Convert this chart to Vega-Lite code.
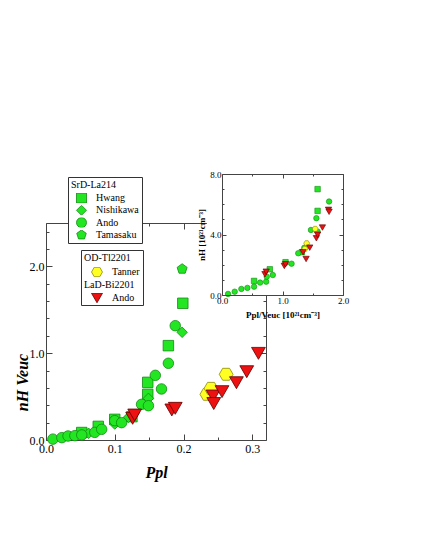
{
  "$schema": "https://vega.github.io/schema/vega-lite/v6.json",
  "autosize": {"type": "none"},
  "padding": {"left": 46, "top": 223, "right": 159, "bottom": 110},
  "width": 220,
  "height": 217,
  "background": "white",
  "config": {"view": {"stroke": null}, "font": "Liberation Serif"},
  "data": {"values": [
    {"p":"main","g":"SrD","a":"Hwang","x":0.052,"y":0.086},
    {"p":"main","g":"SrD","a":"Hwang","x":0.076,"y":0.157},
    {"p":"main","g":"SrD","a":"Hwang","x":0.100,"y":0.238},
    {"p":"main","g":"SrD","a":"Hwang","x":0.125,"y":0.269},
    {"p":"main","g":"SrD","a":"Hwang","x":0.148,"y":0.526},
    {"p":"main","g":"SrD","a":"Hwang","x":0.148,"y":0.664},
    {"p":"main","g":"SrD","a":"Hwang","x":0.178,"y":1.087},
    {"p":"main","g":"SrD","a":"Hwang","x":0.199,"y":1.575},
    {"p":"main","g":"SrD","a":"Nishikawa","x":0.062,"y":0.077},
    {"p":"main","g":"SrD","a":"Nishikawa","x":0.100,"y":0.184},
    {"p":"main","g":"SrD","a":"Nishikawa","x":0.120,"y":0.261},
    {"p":"main","g":"SrD","a":"Nishikawa","x":0.149,"y":0.480},
    {"p":"main","g":"SrD","a":"Nishikawa","x":0.198,"y":1.241},
    {"p":"main","g":"SrD","a":"Ando","x":0.010,"y":0.010},
    {"p":"main","g":"SrD","a":"Ando","x":0.023,"y":0.027},
    {"p":"main","g":"SrD","a":"Ando","x":0.032,"y":0.046},
    {"p":"main","g":"SrD","a":"Ando","x":0.042,"y":0.050},
    {"p":"main","g":"SrD","a":"Ando","x":0.052,"y":0.058},
    {"p":"main","g":"SrD","a":"Ando","x":0.071,"y":0.088},
    {"p":"main","g":"SrD","a":"Ando","x":0.081,"y":0.123},
    {"p":"main","g":"SrD","a":"Ando","x":0.100,"y":0.223},
    {"p":"main","g":"SrD","a":"Ando","x":0.110,"y":0.200},
    {"p":"main","g":"SrD","a":"Ando","x":0.139,"y":0.411},
    {"p":"main","g":"SrD","a":"Ando","x":0.149,"y":0.395},
    {"p":"main","g":"SrD","a":"Ando","x":0.159,"y":0.745},
    {"p":"main","g":"SrD","a":"Ando","x":0.168,"y":0.588},
    {"p":"main","g":"SrD","a":"Ando","x":0.178,"y":0.884},
    {"p":"main","g":"SrD","a":"Ando","x":0.188,"y":1.317},
    {"p":"main","g":"SrD","a":"Tamasaku","x":0.198,"y":1.970},
    {"p":"main","g":"Tl","a":"Tanner","x":0.234,"y":0.526},
    {"p":"main","g":"Tl","a":"Tanner","x":0.240,"y":0.595},
    {"p":"main","g":"Tl","a":"Tanner","x":0.262,"y":0.757},
    {"p":"main","g":"Bi","a":"Ando","x":0.126,"y":0.250},
    {"p":"main","g":"Bi","a":"Ando","x":0.129,"y":0.288},
    {"p":"main","g":"Bi","a":"Ando","x":0.183,"y":0.346},
    {"p":"main","g":"Bi","a":"Ando","x":0.188,"y":0.365},
    {"p":"main","g":"Bi","a":"Ando","x":0.243,"y":0.507},
    {"p":"main","g":"Bi","a":"Ando","x":0.244,"y":0.420},
    {"p":"main","g":"Bi","a":"Ando","x":0.256,"y":0.557},
    {"p":"main","g":"Bi","a":"Ando","x":0.277,"y":0.660},
    {"p":"main","g":"Bi","a":"Ando","x":0.292,"y":0.787},
    {"p":"main","g":"Bi","a":"Ando","x":0.309,"y":0.998},
    {"p":"inset","g":"SrD","a":"Hwang","x":0.53,"y":0.93},
    {"p":"inset","g":"SrD","a":"Hwang","x":0.79,"y":1.70},
    {"p":"inset","g":"SrD","a":"Hwang","x":1.05,"y":2.17},
    {"p":"inset","g":"SrD","a":"Hwang","x":1.32,"y":2.83},
    {"p":"inset","g":"SrD","a":"Hwang","x":1.58,"y":5.56},
    {"p":"inset","g":"SrD","a":"Hwang","x":1.58,"y":7.00},
    {"p":"inset","g":"SrD","a":"Ando","x":0.10,"y":0.07},
    {"p":"inset","g":"SrD","a":"Ando","x":0.21,"y":0.22},
    {"p":"inset","g":"SrD","a":"Ando","x":0.32,"y":0.40},
    {"p":"inset","g":"SrD","a":"Ando","x":0.42,"y":0.47},
    {"p":"inset","g":"SrD","a":"Ando","x":0.53,"y":0.55},
    {"p":"inset","g":"SrD","a":"Ando","x":0.63,"y":0.82},
    {"p":"inset","g":"SrD","a":"Ando","x":0.73,"y":0.88},
    {"p":"inset","g":"SrD","a":"Ando","x":0.74,"y":1.21},
    {"p":"inset","g":"SrD","a":"Ando","x":0.84,"y":1.32},
    {"p":"inset","g":"SrD","a":"Ando","x":1.15,"y":2.07},
    {"p":"inset","g":"SrD","a":"Ando","x":1.26,"y":2.76},
    {"p":"inset","g":"SrD","a":"Ando","x":1.36,"y":3.12},
    {"p":"inset","g":"SrD","a":"Ando","x":1.47,"y":4.30},
    {"p":"inset","g":"SrD","a":"Ando","x":1.58,"y":4.19},
    {"p":"inset","g":"SrD","a":"Ando","x":1.56,"y":5.08},
    {"p":"inset","g":"SrD","a":"Ando","x":1.77,"y":6.18},
    {"p":"inset","g":"Tl","a":"Tanner","x":1.37,"y":3.05},
    {"p":"inset","g":"Tl","a":"Tanner","x":1.40,"y":3.42},
    {"p":"inset","g":"Tl","a":"Tanner","x":1.54,"y":4.37},
    {"p":"inset","g":"Bi","a":"Ando","x":0.71,"y":1.37},
    {"p":"inset","g":"Bi","a":"Ando","x":0.73,"y":1.54},
    {"p":"inset","g":"Bi","a":"Ando","x":1.03,"y":1.92},
    {"p":"inset","g":"Bi","a":"Ando","x":1.05,"y":2.03},
    {"p":"inset","g":"Bi","a":"Ando","x":1.34,"y":2.83},
    {"p":"inset","g":"Bi","a":"Ando","x":1.39,"y":2.38},
    {"p":"inset","g":"Bi","a":"Ando","x":1.45,"y":3.13},
    {"p":"inset","g":"Bi","a":"Ando","x":1.56,"y":3.75},
    {"p":"inset","g":"Bi","a":"Ando","x":1.58,"y":3.98},
    {"p":"inset","g":"Bi","a":"Ando","x":1.66,"y":4.46},
    {"p":"inset","g":"Bi","a":"Ando","x":1.76,"y":5.63},
    {"p":"inset","g":"Bi","a":"Ando","x":1.77,"y":5.50}
  ]},
  "resolve": {
    "scale": {"x": "independent", "y": "independent", "shape": "independent", "fill": "independent", "stroke": "independent"},
    "legend": {"shape": "independent", "fill": "independent", "stroke": "independent"}
  },
  "layer": [
    {
      "transform": [{"filter": "datum.p == 'main' && datum.g == 'SrD'"}],
      "mark": {"type": "point", "filled": true, "fill": "#22e622", "stroke": "#128a12", "strokeWidth": 0.8, "opacity": 1, "size": 110},
      "encoding": {
        "x": {"field": "x", "type": "quantitative",
          "scale": {"domain": [0, 0.32], "nice": false, "zero": false},
          "axis": {"orient": "bottom", "zindex": 0, "grid": false, "values": [0, 0.05, 0.1, 0.15, 0.2, 0.25, 0.3],
            "labelExpr": "round(datum.value*20) % 2 == 0 ? format(datum.value, '.1f') : ''",
            "tickSize": {"condition": {"test": "round(datum.value*20) % 2 == 0", "value": -6}, "value": -3},
            "domainColor": "#444", "tickColor": "#444", "labelColor": "black", "labelFont": "Liberation Serif", "labelFontSize": 12,
            "labelPadding": 9, "labelFlush": false, "labelOverlap": false,
            "title": "Ppl", "titleFont": "Liberation Serif", "titleFontSize": 16, "titleFontStyle": "italic", "titleFontWeight": "bold", "titleColor": "black", "titlePadding": 7}},
        "y": {"field": "y", "type": "quantitative",
          "scale": {"domain": [0, 2.5], "nice": false, "zero": false},
          "axis": {"orient": "left", "zindex": 0, "grid": false, "values": [0, 0.2, 0.4, 0.6, 0.8, 1, 1.2, 1.4, 1.6, 1.8, 2, 2.2, 2.4],
            "labelExpr": "round(datum.value*5) % 5 == 0 ? format(datum.value, '.1f') : ''",
            "tickSize": {"condition": {"test": "round(datum.value*5) % 5 == 0", "value": -6}, "value": -3},
            "domainColor": "#444", "tickColor": "#444", "labelColor": "black", "labelFont": "Liberation Serif", "labelFontSize": 12,
            "labelPadding": 8, "labelFlush": false, "labelOverlap": false,
            "title": "nH Veuc", "titleFont": "Liberation Serif", "titleFontSize": 16, "titleFontStyle": "italic", "titleFontWeight": "bold", "titleColor": "black",
            "titleX": -16, "titleY": 159}},
        "shape": {"field": "a", "type": "nominal",
          "scale": {"domain": ["Hwang", "Nishikawa", "Ando", "Tamasaku"], "range": ["square", "diamond", "circle", "M0,-1L0.951,-0.309L0.588,0.809L-0.588,0.809L-0.951,-0.309Z"]},
          "legend": {"title": "SrD-La214", "orient": "none", "legendX": 22, "legendY": -46, "padding": 3,
            "strokeColor": "#333", "fillColor": "white",
            "titleFont": "Liberation Serif", "titleFontSize": 10, "titleFontWeight": "normal", "titleColor": "black", "titlePadding": 3,
            "labelFont": "Liberation Serif", "labelFontSize": 10, "labelColor": "black",
            "symbolOffset": 5, "labelOffset": 9, "rowPadding": 2.3, "clipHeight": 10, "symbolSize": 100, "symbolStrokeWidth": 0.8}}
      }
    },
    {
      "transform": [{"filter": "datum.p == 'main' && datum.g == 'Tl'"}],
      "mark": {"type": "point", "filled": true, "strokeWidth": 0.8, "opacity": 1, "size": 190},
      "encoding": {
        "x": {"field": "x", "type": "quantitative",
          "scale": {"domain": [0, 0.32], "nice": false, "zero": false},
          "axis": {"orient": "top", "zindex": 0, "grid": false, "labels": false, "title": null, "values": [0, 0.05, 0.1, 0.15, 0.2, 0.25, 0.3],
            "tickSize": {"condition": {"test": "round(datum.value*20) % 2 == 0", "value": -6}, "value": -3},
            "domainColor": "#444", "tickColor": "#444"}},
        "y": {"field": "y", "type": "quantitative",
          "scale": {"domain": [0, 2.5], "nice": false, "zero": false},
          "axis": {"orient": "right", "zindex": 0, "grid": false, "labels": false, "title": null, "values": [0, 0.2, 0.4, 0.6, 0.8, 1, 1.2, 1.4, 1.6, 1.8, 2, 2.2, 2.4],
            "tickSize": {"condition": {"test": "round(datum.value*5) % 5 == 0", "value": -6}, "value": -3},
            "domainColor": "#444", "tickColor": "#444"}},
        "shape": {"field": "a", "type": "nominal",
          "scale": {"domain": ["Tanner", "_a", "_b"], "range": ["M-1,0L-0.5,-0.866L0.5,-0.866L1,0L0.5,0.866L-0.5,0.866Z", "circle", "circle"]},
          "legend": {"title": "OD-Tl2201", "orient": "none", "legendX": 35, "legendY": 27, "padding": 3,
            "strokeColor": "#333", "fillColor": "white",
            "titleFont": "Liberation Serif", "titleFontSize": 10, "titleFontWeight": "normal", "titleColor": "black", "titlePadding": 4,
            "labelFont": "Liberation Serif", "labelFontSize": 10, "labelColor": "black",
            "labelExpr": "datum.value == 'Tanner' ? datum.label : ''",
            "symbolOffset": 7, "labelOffset": 9, "rowPadding": 2.3, "clipHeight": 10, "symbolSize": 120, "symbolStrokeWidth": 0.8}},
        "fill": {"field": "a", "type": "nominal",
          "scale": {"domain": ["Tanner", "_a", "_b"], "range": ["#ffff22", "transparent", "transparent"]},
          "legend": {"title": "OD-Tl2201", "orient": "none", "legendX": 35, "legendY": 27, "padding": 3,
            "strokeColor": "#333", "fillColor": "white",
            "titleFont": "Liberation Serif", "titleFontSize": 10, "titleFontWeight": "normal", "titleColor": "black", "titlePadding": 4,
            "labelFont": "Liberation Serif", "labelFontSize": 10, "labelColor": "black",
            "labelExpr": "datum.value == 'Tanner' ? datum.label : ''",
            "symbolOffset": 7, "labelOffset": 9, "rowPadding": 2.3, "clipHeight": 10, "symbolSize": 120, "symbolStrokeWidth": 0.8}},
        "stroke": {"field": "a", "type": "nominal",
          "scale": {"domain": ["Tanner", "_a", "_b"], "range": ["#8a8a00", "transparent", "transparent"]},
          "legend": {"title": "OD-Tl2201", "orient": "none", "legendX": 35, "legendY": 27, "padding": 3,
            "strokeColor": "#333", "fillColor": "white",
            "titleFont": "Liberation Serif", "titleFontSize": 10, "titleFontWeight": "normal", "titleColor": "black", "titlePadding": 4,
            "labelFont": "Liberation Serif", "labelFontSize": 10, "labelColor": "black",
            "labelExpr": "datum.value == 'Tanner' ? datum.label : ''",
            "symbolOffset": 7, "labelOffset": 9, "rowPadding": 2.3, "clipHeight": 10, "symbolSize": 120, "symbolStrokeWidth": 0.8}}
      }
    },
    {
      "transform": [{"filter": "datum.p == 'main' && datum.g == 'Bi'"}],
      "mark": {"type": "point", "filled": true, "fill": "#ee1111", "stroke": "#5a0000", "strokeWidth": 0.8, "opacity": 1, "size": 190},
      "encoding": {
        "x": {"field": "x", "type": "quantitative", "scale": {"domain": [0, 0.32], "nice": false, "zero": false}, "axis": null},
        "y": {"field": "y", "type": "quantitative", "scale": {"domain": [0, 2.5], "nice": false, "zero": false}, "axis": null},
        "shape": {"field": "a", "type": "nominal",
          "scale": {"domain": ["Ando"], "range": ["triangle-down"]},
          "legend": {"title": "LaD-Bi2201", "orient": "none", "legendX": 38, "legendY": 57, "padding": 0,
            "titleFont": "Liberation Serif", "titleFontSize": 10, "titleFontWeight": "normal", "titleColor": "black", "titlePadding": 3,
            "labelFont": "Liberation Serif", "labelFontSize": 10, "labelColor": "black",
            "symbolOffset": 7, "labelOffset": 9, "rowPadding": 2.3, "clipHeight": 10, "symbolSize": 120, "symbolStrokeWidth": 0.8}}
      }
    },
    {
      "data": {"values": [{"box": "inset"}]},
      "mark": {"type": "rect", "fill": "white", "stroke": null},
      "encoding": {
        "x": {"datum": -0.25, "type": "quantitative", "scale": {"domain": [0, 2], "range": [176, 297], "nice": false, "zero": false}, "axis": null},
        "x2": {"datum": 2},
        "y": {"datum": 0, "type": "quantitative", "scale": {"domain": [0, 8], "range": [72, -49], "nice": false, "zero": false}, "axis": null},
        "y2": {"datum": 8}
      }
    },
    {
      "transform": [{"filter": "datum.p == 'inset' && datum.g == 'SrD'"}],
      "mark": {"type": "point", "filled": true, "fill": "#22e622", "stroke": "#128a12", "strokeWidth": 0.6, "opacity": 1, "size": 30},
      "encoding": {
        "x": {"field": "x", "type": "quantitative",
          "scale": {"domain": [0, 2], "range": [176, 297], "nice": false, "zero": false},
          "axis": {"orient": "bottom", "offset": -145, "zindex": 1, "grid": false, "values": [0, 0.5, 1, 1.5, 2],
            "labelExpr": "round(datum.value*2) % 2 == 0 ? format(datum.value, '.1f') : ''",
            "tickSize": {"condition": {"test": "round(datum.value*2) % 2 == 0", "value": -4}, "value": -2},
            "domainColor": "#444", "tickColor": "#444", "labelColor": "black", "labelFont": "Liberation Serif", "labelFontSize": 9,
            "labelPadding": 5, "labelFlush": false, "labelOverlap": false,
            "title": "Ppl/Veuc [10²¹cm⁻³]", "titleFont": "Liberation Serif", "titleFontSize": 9, "titleFontWeight": "bold", "titleColor": "black", "titlePadding": 3}},
        "y": {"field": "y", "type": "quantitative",
          "scale": {"domain": [0, 8], "range": [72, -49], "nice": false, "zero": false},
          "axis": {"orient": "left", "offset": -176, "zindex": 1, "grid": false, "values": [0, 1, 2, 3, 4, 5, 6, 7, 8],
            "labelExpr": "datum.value % 4 == 0 ? format(datum.value, '.1f') : ''",
            "tickSize": {"condition": {"test": "datum.value % 4 == 0", "value": -4}, "value": -2},
            "domainColor": "#444", "tickColor": "#444", "labelColor": "black", "labelFont": "Liberation Serif", "labelFontSize": 9,
            "labelPadding": 5, "labelFlush": false, "labelOverlap": false,
            "title": "nH [10²¹cm⁻³]", "titleFont": "Liberation Serif", "titleFontSize": 9, "titleFontWeight": "bold", "titleColor": "black", "titlePadding": 3}},
        "shape": {"field": "a", "type": "nominal", "scale": {"domain": ["Hwang", "Ando"], "range": ["square", "circle"]}, "legend": null}
      }
    },
    {
      "transform": [{"filter": "datum.p == 'inset' && datum.g == 'Tl'"}],
      "mark": {"type": "point", "filled": true, "fill": "#ffff22", "stroke": "#8a8a00", "strokeWidth": 0.6, "opacity": 1, "size": 35,
        "shape": "M-1,0L-0.5,-0.866L0.5,-0.866L1,0L0.5,0.866L-0.5,0.866Z"},
      "encoding": {
        "x": {"field": "x", "type": "quantitative",
          "scale": {"domain": [0, 2], "range": [176, 297], "nice": false, "zero": false},
          "axis": {"orient": "top", "offset": 49, "zindex": 1, "grid": false, "labels": false, "title": null, "values": [0, 0.5, 1, 1.5, 2],
            "tickSize": {"condition": {"test": "round(datum.value*2) % 2 == 0", "value": -4}, "value": -2},
            "domainColor": "#444", "tickColor": "#444"}},
        "y": {"field": "y", "type": "quantitative",
          "scale": {"domain": [0, 8], "range": [72, -49], "nice": false, "zero": false},
          "axis": {"orient": "right", "offset": 77, "zindex": 1, "grid": false, "labels": false, "title": null, "values": [0, 1, 2, 3, 4, 5, 6, 7, 8],
            "tickSize": {"condition": {"test": "datum.value % 4 == 0", "value": -4}, "value": -2},
            "domainColor": "#444", "tickColor": "#444"}}
      }
    },
    {
      "transform": [{"filter": "datum.p == 'inset' && datum.g == 'Bi'"}],
      "mark": {"type": "point", "filled": true, "fill": "#ee1111", "stroke": "#5a0000", "strokeWidth": 0.6, "opacity": 1, "size": 40, "shape": "triangle-down"},
      "encoding": {
        "x": {"field": "x", "type": "quantitative", "scale": {"domain": [0, 2], "range": [176, 297], "nice": false, "zero": false}, "axis": null},
        "y": {"field": "y", "type": "quantitative", "scale": {"domain": [0, 8], "range": [72, -49], "nice": false, "zero": false}, "axis": null}
      }
    }
  ]
}
